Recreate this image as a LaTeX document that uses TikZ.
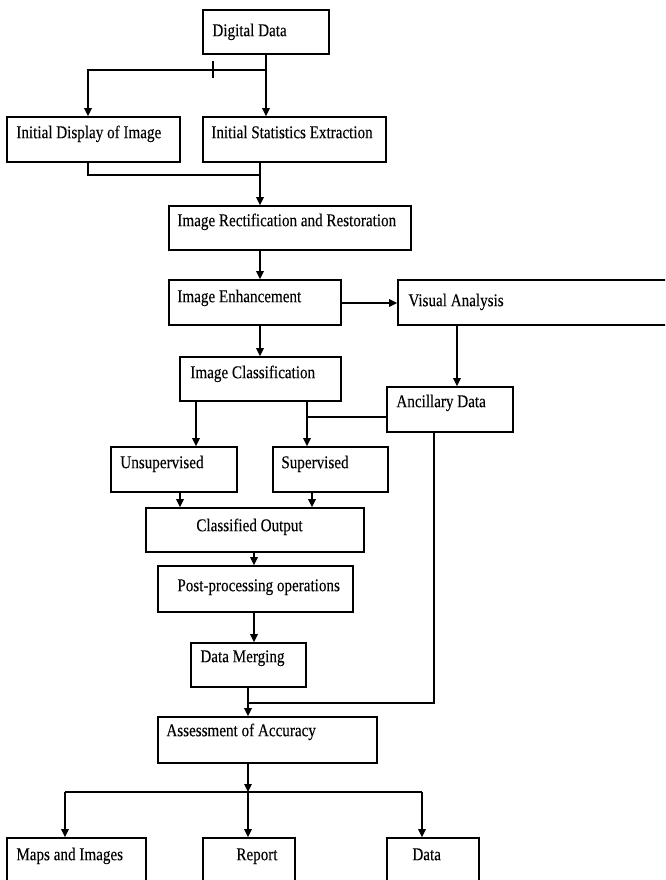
\documentclass[tikz,border=0pt]{standalone}
\usepackage{fontspec}
\setmainfont[FakeStretch=0.84,FakeBold=0.12]{Liberation Serif}
\usetikzlibrary{arrows.meta}
\tikzset{
  box/.style={draw=black, line width=1.6pt, rectangle, inner sep=0pt, fill=white},
  txt/.style={anchor=base west, inner sep=0pt, font=\fontsize{18}{20}\selectfont},
  conn/.style={draw=black, line width=1.5pt},
  arr/.style={conn, -{Triangle[length=8pt,width=7.5pt]}},
}
\newcommand{\bx}[5]{% name, left, top, right, bottom
  \node[box, minimum width={(#4-#2)*1pt}, minimum height={(#5-#3)*1pt}] (#1) at ({(#2+#4)/2},{(#3+#5)/2}) {};}
\begin{document}
\begin{tikzpicture}[x=1pt,y=-1pt]
\useasboundingbox (0,0) rectangle (665,880);
\clip (0,0) rectangle (665,880);
\fill[white] (0,0) rectangle (665,880);
% boxes
\bx{dd}{203}{10}{329}{54}
\bx{idi}{7}{117}{180}{162}
\bx{ise}{203}{117}{386}{162}
\bx{irr}{169}{206}{411}{250}
\bx{ie}{169}{280}{341}{325}
\bx{va}{398}{280}{680}{325}
\bx{ic}{180}{357}{341}{401}
\bx{ad}{387}{387}{513}{432}
\bx{un}{111}{447}{237}{492}
\bx{su}{273}{447}{388}{492}
\bx{co}{146}{508}{364}{552}
\bx{pp}{158}{566}{353}{612}
\bx{dm}{191}{643}{306}{687}
\bx{aa}{158}{717}{377}{763}
\bx{mi}{7}{838}{146}{900}
\bx{re}{203}{838}{295}{900}
\bx{da}{387}{838}{479}{900}
% texts
\node[txt] (ddt) at ([shift={(10,27)}]dd.north west) {Digital Data};
\node[txt] (idit) at ([shift={(10,22)}]idi.north west) {Initial Display of Image};
\node[txt] (iset) at ([shift={(9,22)}]ise.north west) {Initial Statistics Extraction};
\node[txt] (irrt) at ([shift={(9,21)}]irr.north west) {Image Rectification and Restoration};
\node[txt] (iet) at ([shift={(9,23)}]ie.north west) {Image Enhancement};
\node[txt] (vat) at ([shift={(11,27)}]va.north west) {Visual Analysis};
\node[txt] (ict) at ([shift={(11,22)}]ic.north west) {Image Classification};
\node[txt] (adt) at ([shift={(10,21)}]ad.north west) {Ancillary Data};
\node[txt] (unt) at ([shift={(10,22)}]un.north west) {Unsupervised};
\node[txt] (sut) at ([shift={(9,22)}]su.north west) {Supervised};
\node[txt] (cot) at ([shift={(51,24)}]co.north west) {Classified Output};
\node[txt] (ppt) at ([shift={(20,26)}]pp.north west) {Post-processing operations};
\node[txt] (dmt) at ([shift={(10,20)}]dm.north west) {Data Merging};
\node[txt] (aat) at ([shift={(9,20)}]aa.north west) {Assessment of Accuracy};
\node[txt] (mit) at ([shift={(10,23)}]mi.north west) {Maps and Images};
\node[txt] (ret) at ([shift={(34,23)}]re.north west) {Report};
\node[txt] (dat) at ([shift={(26,23)}]da.north west) {Data};
% junction coordinates
\coordinate (j1) at (266,70);
\coordinate (j2) at (260,175);
\coordinate (j3) at (307,417);
\coordinate (j4) at (248,703);
\coordinate (j5) at (248,792);
% connectors
\draw[arr] (dd.south) -- (dd.south |- ise.north);
\draw[arr] (j1) -| (88,0 |- idi.north);
\draw[conn, line width=2.4pt] (213,61) -- (213,78);
\draw[conn] (88,0 |- idi.south) |- (j2);
\draw[arr] (260,0 |- ise.south) -- (260,0 |- irr.north);
\draw[arr] (260,0 |- irr.south) -- (260,0 |- ie.north);
\draw[arr] (ie.east |- 0,303) -- (va.west |- 0,303);
\draw[arr] (260,0 |- ie.south) -- (260,0 |- ic.north);
\draw[arr] (457,0 |- va.south) -- (457,0 |- ad.north);
\draw[arr] (196,0 |- ic.south) -- (196,0 |- un.north);
\draw[arr] (307,0 |- ic.south) -- (307,0 |- su.north);
\draw[conn] (ad.west |- j3) -- (j3);
\draw[arr] (180,0 |- un.south) -- (180,0 |- co.north);
\draw[arr] (312,0 |- su.south) -- (312,0 |- co.north);
\draw[arr] (254,0 |- co.south) -- (254,0 |- pp.north);
\draw[arr] (254,0 |- pp.south) -- (254,0 |- dm.north);
\draw[arr] (248,0 |- dm.south) -- (248,0 |- aa.north);
\draw[conn] (434,0 |- ad.south) |- (j4);
\draw[arr] (248,0 |- aa.south) -- (j5);
\draw[conn] (65,792) -- (422,792);
\draw[arr] (65,792) -- (65,0 |- mi.north);
\draw[arr] (j5) -- (248,0 |- re.north);
\draw[arr] (422,792) -- (422,0 |- da.north);
\end{tikzpicture}
\end{document}
